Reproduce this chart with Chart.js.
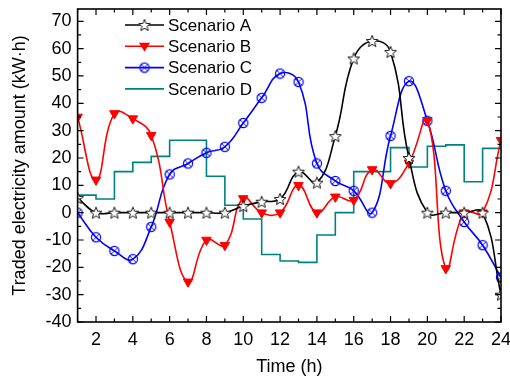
<!DOCTYPE html>
<html>
<head>
    <title>Traded electricity amount</title>
    <script src="https://cdn.jsdelivr.net/npm/chart.js@4/dist/chart.umd.min.js"></script>
    <style>
        body { margin: 0; background: #fff; }
        #wrap { width: 510px; height: 378px; }
    </style>
</head>
<body>
    <div id="wrap"><canvas id="tradeChart" width="510" height="378"></canvas></div>

    <script>
    // values
    const hours = [1, 2, 3, 4, 5, 6, 7, 8, 9, 10, 11, 12, 13, 14, 15, 16, 17, 18, 19, 20, 21, 22, 23, 24];
    const scenarioA = [5.4, 0, 0, 0, 0, 0, 0, 0, 0, 2.4, 4, 5, 15, 11, 28, 56.4, 62.8, 58.8, 20, 0, 0, 0, 0, -30];
    const scenarioB = [35, 12, 36.3, 34.4, 28.3, -3.4, -25.3, -10, -11.9, 5.2, 0, 0, 10, 0, 5.8, 4.6, 15.8, 10.7, 18.2, 33.8, -20.4, 0, 0, 26.5];
    const scenarioC = [0, -9, -14, -17, -5.2, 14, 18, 21.9, 24.1, 32.8, 42, 50.9, 47.8, 18, 11.6, 8, 0, 28.1, 48.1, 33.6, 8, -3.4, -11.9, -23.7];
    const scenarioD = [6.4, 5, 15, 18.4, 20.6, 26.5, 26.5, 13.3, 2.7, -2.3, -15.3, -17.7, -18.2, -8.2, 0, 15, 15, 23.8, 16.7, 24.3, 24.8, 11.3, 23.5, 23.5];
    const seriesNames = ['Scenario A', 'Scenario B', 'Scenario C', 'Scenario D'];
    const yTickValues = [-40, -30, -20, -10, 0, 10, 20, 30, 40, 50, 60, 70];

    const FONT = '"Liberation Sans", Arial, sans-serif';

    // marker images
    function makeStar() {
        const c = document.createElement('canvas');
        c.width = 14; c.height = 14;
        const g = c.getContext('2d');
        g.beginPath();
        for (let i = 0; i < 10; i++) {
            const r = i % 2 === 0 ? 6.2 : 2.7;
            const a = -Math.PI / 2 + i * Math.PI / 5;
            const x = 7 + r * Math.cos(a), y = 7.6 + r * Math.sin(a);
            if (i === 0) g.moveTo(x, y); else g.lineTo(x, y);
        }
        g.closePath();
        g.fillStyle = '#fff';
        g.fill();
        g.strokeStyle = '#000';
        g.lineWidth = 0.9;
        g.stroke();
        return c;
    }

    function makeCrossCircle() {
        const c = document.createElement('canvas');
        c.width = 12; c.height = 12;
        const g = c.getContext('2d');
        g.strokeStyle = '#0000ff';
        g.lineWidth = 1.2;
        g.beginPath();
        g.arc(6, 6, 4.6, 0, Math.PI * 2);
        g.stroke();
        g.lineWidth = 0.9;
        g.beginPath();
        g.moveTo(2.6, 2.6); g.lineTo(9.4, 9.4);
        g.moveTo(9.4, 2.6); g.lineTo(2.6, 9.4);
        g.stroke();
        return c;
    }

    const starImg = makeStar();
    const crossImg = makeCrossCircle();

    function toXY(vals) {
        return vals.map((v, i) => ({ x: hours[i], y: v }));
    }

    // frame with inward ticks on all four sides
    const framePlugin = {
        id: 'frame',
        afterDatasetsDraw(chart) {
            const ctx = chart.ctx;
            const a = chart.chartArea;
            const xs = chart.scales.x, ys = chart.scales.y;
            ctx.save();
            ctx.strokeStyle = '#000';
            ctx.lineWidth = 1.6;
            ctx.strokeRect(a.left, a.top, a.right - a.left, a.bottom - a.top);
            ctx.lineWidth = 1.2;
            ctx.beginPath();
            for (let h = 1; h <= 24; h++) {
                const px = xs.getPixelForValue(h);
                const len = h % 2 === 0 ? 6 : 3.5;
                ctx.moveTo(px, a.bottom); ctx.lineTo(px, a.bottom - len);
                ctx.moveTo(px, a.top); ctx.lineTo(px, a.top + len);
            }
            for (let v = -40; v <= 70; v += 5) {
                const py = ys.getPixelForValue(v);
                const len = v % 10 === 0 ? 6 : 3.5;
                ctx.moveTo(a.left, py); ctx.lineTo(a.left + len, py);
                ctx.moveTo(a.right, py); ctx.lineTo(a.right - len, py);
            }
            ctx.stroke();
            ctx.restore();
        }
    };

    // legend inside the plot, line + marker like the original
    const legendPlugin = {
        id: 'boxLegend',
        afterDraw(chart) {
            const ctx = chart.ctx;
            ctx.save();
            chart.data.datasets.forEach((ds, i) => {
                const y = 25 + i * 21.3;
                ctx.strokeStyle = ds.borderColor;
                ctx.lineWidth = 1.6;
                ctx.beginPath();
                ctx.moveTo(125, y); ctx.lineTo(164, y);
                ctx.stroke();
                const mx = 144.5;
                if (ds.pointStyle instanceof HTMLCanvasElement) {
                    const img = ds.pointStyle;
                    ctx.drawImage(img, mx - img.width / 2, y - img.height / 2);
                } else if (ds.pointStyle === 'triangle') {
                    ctx.fillStyle = ds.pointBackgroundColor;
                    ctx.beginPath();
                    ctx.moveTo(mx - 5.5, y - 3.5);
                    ctx.lineTo(mx + 5.5, y - 3.5);
                    ctx.lineTo(mx, y + 5.5);
                    ctx.closePath();
                    ctx.fill();
                }
                ctx.fillStyle = '#000';
                ctx.font = '17px ' + FONT;
                ctx.textBaseline = 'middle';
                ctx.textAlign = 'left';
                ctx.fillText(ds.label, 168, y + 1);
            });
            ctx.restore();
        }
    };

    const ctx = document.getElementById('tradeChart').getContext('2d');
    new Chart(ctx, {
        type: 'line',
        data: {
            datasets: [
                {
                    label: seriesNames[0],
                    data: toXY(scenarioA),
                    borderColor: '#000000',
                    borderWidth: 1.6,
                    tension: 0.45,
                    pointStyle: starImg,
                    pointRadius: 6
                },
                {
                    label: seriesNames[1],
                    data: toXY(scenarioB),
                    borderColor: '#ff0000',
                    borderWidth: 1.6,
                    tension: 0.45,
                    pointStyle: 'triangle',
                    pointRotation: 180,
                    pointRadius: 5.5,
                    pointBackgroundColor: '#ff0000',
                    pointBorderColor: '#ff0000',
                    pointBorderWidth: 1
                },
                {
                    label: seriesNames[2],
                    data: toXY(scenarioC),
                    borderColor: '#0000ff',
                    borderWidth: 1.6,
                    tension: 0.45,
                    pointStyle: crossImg,
                    pointRadius: 6
                },
                {
                    label: seriesNames[3],
                    data: toXY(scenarioD),
                    borderColor: '#008080',
                    borderWidth: 1.6,
                    stepped: true,
                    pointRadius: 0
                }
            ]
        },
        options: {
            responsive: false,
            animation: false,
            devicePixelRatio: 1,
            layout: { padding: { top: 9, right: 9, left: 0, bottom: 0 } },
            plugins: {
                legend: { display: false },
                tooltip: { enabled: false }
            },
            scales: {
                x: {
                    type: 'linear',
                    min: 1,
                    max: 24,
                    grid: { display: false, drawTicks: false },
                    border: { display: false },
                    ticks: {
                        stepSize: 1,
                        autoSkip: false,
                        maxRotation: 0,
                        padding: 7,
                        color: '#000',
                        font: { family: FONT, size: 18 },
                        callback: v => (v % 2 === 0 ? String(v) : '')
                    },
                    title: {
                        display: true,
                        text: 'Time (h)',
                        color: '#000',
                        font: { family: FONT, size: 18 },
                        padding: { top: 0, bottom: 0 }
                    },
                    afterFit: s => { s.height = 56; s.paddingLeft = 0; s.paddingRight = 0; }
                },
                y: {
                    min: -40,
                    max: 74.5,
                    grid: { display: false, drawTicks: false },
                    border: { display: false },
                    afterBuildTicks: s => { s.ticks = yTickValues.map(v => ({ value: v })); },
                    ticks: {
                        padding: 6,
                        color: '#000',
                        font: { family: FONT, size: 18 }
                    },
                    title: {
                        display: true,
                        text: 'Traded electricity amount (kW·h)',
                        color: '#000',
                        font: { family: FONT, size: 18 },
                        padding: { top: 9, bottom: 0 }
                    },
                    afterFit: s => { s.width = 77.6; s.paddingTop = 0; s.paddingBottom = 0; }
                }
            }
        },
        plugins: [framePlugin, legendPlugin]
    });
    </script>
</body>
</html>
